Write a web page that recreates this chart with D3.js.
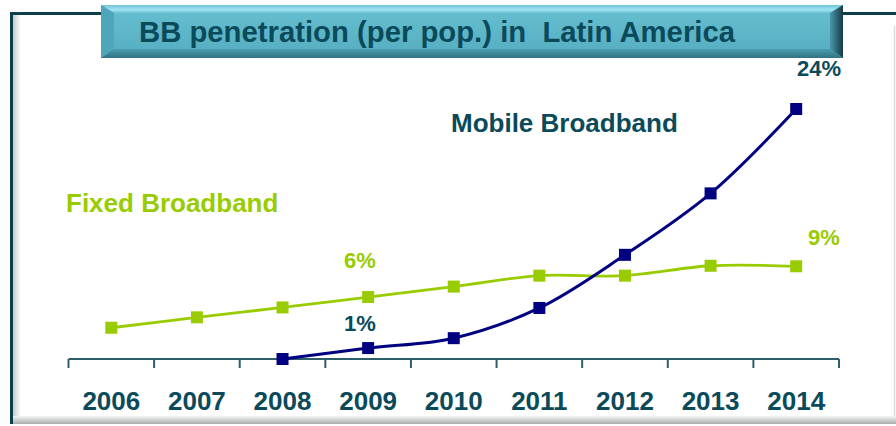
<!DOCTYPE html>
<html><head><meta charset="utf-8">
<script src="https://cdn.jsdelivr.net/npm/d3@7"></script>
<style>html,body{margin:0;padding:0;background:#fff;}svg{display:block;font-family:"Liberation Sans",Arial,sans-serif;}</style>
</head><body>
<svg id="c" width="896" height="426"></svg>
<script>
const years = ["2006","2007","2008","2009","2010","2011","2012","2013","2014"];
const fixedBB = [3.0, 4.0, 4.95, 5.95, 6.95, 8.0, 8.0, 8.95, 8.9];
const mobileBB = [null, null, 0, 1.05, 2.0, 4.9, 10.0, 15.9, 24.0];
const titleText = "BB penetration (per pop.) in  Latin America";
const labels = [
  {text:"Mobile Broadband", cls:"mob", x:451, y:132, size:26},
  {text:"Fixed Broadband", cls:"fix", x:66, y:212, size:26}
];
const valueLabels = [
  {text:"24%", cls:"mob", x:797, y:76},
  {text:"9%", cls:"fix", x:808, y:245},
  {text:"6%", cls:"fix", x:344, y:268},
  {text:"1%", cls:"mob", x:344, y:331}
];

const svg = d3.select("#c");
const teal = "#0b4a5a", green = "#99cc00", navy = "#000080";
const defs = svg.append("defs");

// frame
const gl = defs.append("linearGradient").attr("id","gLeft").attr("x1",0).attr("x2",1).attr("y1",0).attr("y2",0);
gl.append("stop").attr("offset",0).attr("stop-color","#c8cccd");
gl.append("stop").attr("offset",1).attr("stop-color","#ffffff");
const gb = defs.append("linearGradient").attr("id","gBot").attr("x1",0).attr("x2",0).attr("y1",0).attr("y2",1);
gb.append("stop").attr("offset",0).attr("stop-color","#f4f4f4");
gb.append("stop").attr("offset",1).attr("stop-color","#a9adae");
svg.append("rect").attr("x",13).attr("y",15).attr("width",8).attr("height",402).attr("fill","url(#gLeft)");
svg.append("rect").attr("x",13).attr("y",416).attr("width",883).attr("height",8).attr("fill","url(#gBot)");
svg.append("line").attr("x1",894.5).attr("x2",894.5).attr("y1",26).attr("y2",416).attr("stroke","#d8dcdc").attr("stroke-width",1.5);
svg.append("path").attr("d","M11.5,424 V13.5 H896").attr("fill","none").attr("stroke","#0e3f4c").attr("stroke-width",3);

// title box (beveled)
const bx0=101, bx1=843, by0=5, by1=58, bv=13;
const gFace = defs.append("linearGradient").attr("id","gFace").attr("x1",0).attr("x2",0).attr("y1",0).attr("y2",1);
gFace.append("stop").attr("offset",0).attr("stop-color","#67c0d2");
gFace.append("stop").attr("offset",1).attr("stop-color","#55acc0");
const gTop = defs.append("linearGradient").attr("id","gTop").attr("x1",0).attr("x2",0).attr("y1",0).attr("y2",1);
gTop.append("stop").attr("offset",0).attr("stop-color","#6fc4d6");
gTop.append("stop").attr("offset",0.6).attr("stop-color","#9fe4f2");
gTop.append("stop").attr("offset",1).attr("stop-color","#6cc3d5");
const gRight = defs.append("linearGradient").attr("id","gRight").attr("x1",0).attr("x2",1).attr("y1",0).attr("y2",0);
gRight.append("stop").attr("offset",0).attr("stop-color","#4a98aa");
gRight.append("stop").attr("offset",1).attr("stop-color","#163a44");
const gBB = defs.append("linearGradient").attr("id","gBB").attr("x1",0).attr("x2",0).attr("y1",0).attr("y2",1);
gBB.append("stop").attr("offset",0).attr("stop-color","#4c9db0");
gBB.append("stop").attr("offset",1).attr("stop-color","#2f7384");
const box = svg.append("g");
box.append("rect").attr("x",bx0).attr("y",by0).attr("width",bx1-bx0).attr("height",by1-by0).attr("fill","url(#gFace)");
box.append("path").attr("d",`M${bx0},${by0} H${bx1} L${bx1-bv},${by0+8} H${bx0+bv} Z`).attr("fill","url(#gTop)");
box.append("path").attr("d",`M${bx0},${by0} L${bx0+bv},${by0+8} V${by1-9} L${bx0},${by1} Z`).attr("fill","#4ea6ba");
box.append("path").attr("d",`M${bx1},${by0} L${bx1-bv},${by0+8} V${by1-9} L${bx1},${by1} Z`).attr("fill","url(#gRight)");
box.append("path").attr("d",`M${bx0},${by1} L${bx0+bv},${by1-9} H${bx1-bv} L${bx1},${by1} Z`).attr("fill","url(#gBB)");
box.append("text").attr("x",139).attr("y",42).attr("font-size",29).attr("font-weight","bold").attr("fill",teal)
  .attr("textLength",596).attr("lengthAdjust","spacingAndGlyphs")
  .attr("xml:space","preserve").style("white-space","pre").text(titleText);

// scales
const x = d3.scaleBand().domain(years).range([68.5, 839]).paddingInner(0).paddingOuter(0);
const cx = d => x(d) + x.bandwidth()/2;
const y = d3.scaleLinear().domain([0, 24]).range([359, 109]);

// axis
const ax = svg.append("g").attr("transform",`translate(0,${y(0)})`);
const axis = d3.axisBottom(x).tickSize(0).tickPadding(0).tickSizeOuter(0);
ax.call(axis);
ax.select(".domain").remove();
ax.selectAll(".tick text").attr("y",51).attr("dy",0).attr("font-size",26).attr("font-weight","bold")
  .attr("fill",teal).attr("font-family","Liberation Sans, Arial, sans-serif");
ax.append("line").attr("x1",x.range()[0]).attr("x2",x.range()[1]).attr("stroke","#2e5e6a").attr("stroke-width",2);
const bounds = years.map(d => x(d)).concat([x.range()[1]]);
ax.selectAll(".tk").data(bounds).join("line").attr("class","tk")
  .attr("x1",d=>d).attr("x2",d=>d).attr("y1",0).attr("y2",9).attr("stroke","#2e5e6a").attr("stroke-width",2);

// lines
const fixedPts = years.map((d,i)=>({x:d, v:fixedBB[i]})).filter(p=>p.v!=null);
const mobPts = years.map((d,i)=>({x:d, v:mobileBB[i]})).filter(p=>p.v!=null);
const line = d3.line().x(p=>cx(p.x)).y(p=>y(p.v)).curve(d3.curveCatmullRom.alpha(0.5));
svg.append("path").attr("d",line(fixedPts)).attr("fill","none").attr("stroke",green).attr("stroke-width",2.8);
svg.selectAll(".fm").data(fixedPts).join("rect").attr("class","fm")
  .attr("x",p=>cx(p.x)-6).attr("y",p=>y(p.v)-6).attr("width",12).attr("height",12).attr("fill",green);
svg.append("path").attr("d",line(mobPts)).attr("fill","none").attr("stroke",navy).attr("stroke-width",3);
svg.selectAll(".mm").data(mobPts).join("rect").attr("class","mm")
  .attr("x",p=>cx(p.x)-6).attr("y",p=>y(p.v)-6).attr("width",12).attr("height",12).attr("fill",navy);

// labels
svg.selectAll(".lbl").data(labels).join("text").attr("class","lbl")
  .attr("x",d=>d.x).attr("y",d=>d.y).attr("font-size",d=>d.size).attr("font-weight","bold")
  .attr("fill",d=>d.cls==="mob"?teal:green).text(d=>d.text);
svg.selectAll(".vl").data(valueLabels).join("text").attr("class","vl")
  .attr("x",d=>d.x).attr("y",d=>d.y).attr("font-size",22).attr("font-weight","bold")
  .attr("fill",d=>d.cls==="mob"?teal:green).text(d=>d.text);
</script>
</body></html>
